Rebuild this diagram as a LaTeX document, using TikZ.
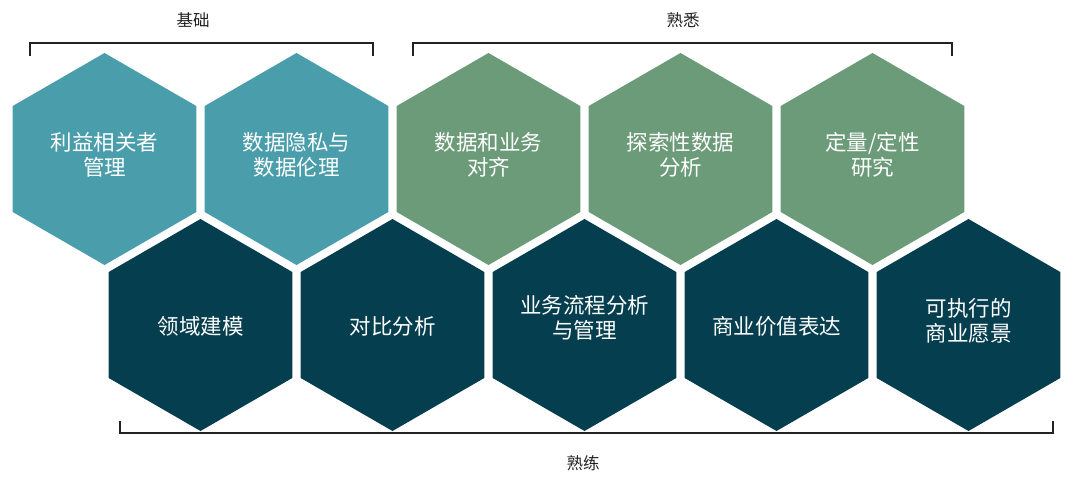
\documentclass[tikz,border=0pt]{standalone}
\usepackage{fontspec}
\setmainfont{Noto Sans CJK SC}
\usetikzlibrary{shapes.geometric}
\definecolor{hexteal}{HTML}{4A9DAA}
\definecolor{hexgreen}{HTML}{6B9B78}
\definecolor{hexdark}{HTML}{053E4E}
\definecolor{brk}{HTML}{222222}
\tikzset{
  hexa/.style={regular polygon, regular polygon sides=6, shape border rotate=90,
    minimum size=212pt, inner sep=0pt, outer sep=0pt},
  foundation/.style={hexa, fill=hexteal},
  familiar/.style={hexa, fill=hexgreen},
  proficient/.style={hexa, fill=hexdark},
  htext/.style={text=white, font=\fontsize{21.5}{25}\selectfont, align=center, inner sep=0pt},
  brace/.style={draw=brk, line width=2.2pt},
  grouplabel/.style={text=brk, font=\fontsize{16.5}{20}\selectfont, inner sep=0pt}
}
\begin{document}
\begin{tikzpicture}[x=1pt,y=-1pt]
\useasboundingbox (0,0) rectangle (1080,480);
% top row
\node[foundation] (h1) at (104.5,159) {};
\node[foundation] (h2) at (296.5,159) {};
\node[familiar] (h3) at (488.5,159) {};
\node[familiar] (h4) at (680.5,159) {};
\node[familiar] (h5) at (872.5,159) {};
% bottom row
\node[proficient] (b1) at (200.5,325) {};
\node[proficient] (b2) at (392.5,325) {};
\node[proficient] (b3) at (584.5,325) {};
\node[proficient] (b4) at (776.5,325) {};
\node[proficient] (b5) at (968.5,325) {};
% texts
\node[htext] (t1) at (104.5,155) {利益相关者\\管理};
\node[htext] (t2) at (296.5,155) {数据隐私与\\数据伦理};
\node[htext] (t3) at (488.5,155) {数据和业务\\对齐};
\node[htext] (t4) at (680.5,155) {探索性数据\\分析};
\node[htext] (t5) at (872.5,155) {定量/定性\\研究};
\node[htext] (u1) at (200.5,326) {领域建模};
\node[htext] (u2) at (392.5,326) {对比分析};
\node[htext] (u3) at (584.5,318) {业务流程分析\\与管理};
\node[htext] (u4) at (776.5,326) {商业价值表达};
\node[htext] (u5) at (968.5,321) {可执行的\\商业愿景};
% brackets
\draw[brace] (30,56) -- (30,43) -- (373,43) -- (373,56);
\draw[brace] (413,56) -- (413,43) -- (952,43) -- (952,56);
\draw[brace] (120,421) -- (120,433) -- (1053,433) -- (1053,421);
\node[grouplabel] (l1) at (193,20) {基础};
\node[grouplabel] (l2) at (683,20) {熟悉};
\node[grouplabel] (l3) at (583,463) {熟练};
\end{tikzpicture}
\end{document}
